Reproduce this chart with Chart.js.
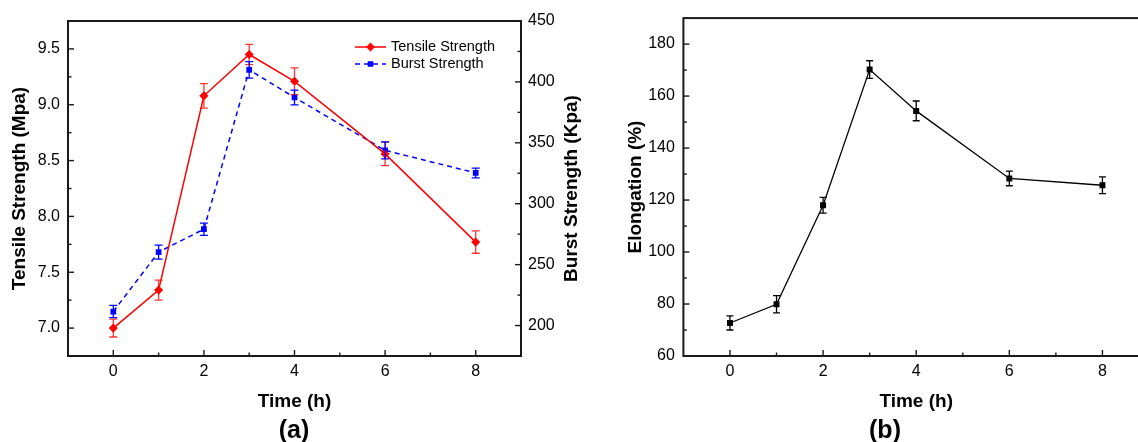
<!DOCTYPE html>
<html>
<head>
<meta charset="utf-8">
<script src="https://cdn.jsdelivr.net/npm/chart.js@4.4.0/dist/chart.umd.min.js"></script>
<style>
  html, body { margin: 0; padding: 0; background: #fff; width: 1138px; height: 442px; overflow: hidden; }
  .panel { position: absolute; top: 0; }
  .tag { position: absolute; transform: translate(-50%, -50%); font: bold 25px Arial, "Liberation Sans", sans-serif; color: #000; }
</style>
</head>
<body>
<div class="panel" style="left:0"><canvas id="chartA" width="600" height="442"></canvas></div>
<div class="panel" style="left:600px"><canvas id="chartB" width="560" height="442"></canvas></div>
<div class="tag" style="left:294px;top:429px">(a)</div>
<div class="tag" style="left:885px;top:429px">(b)</div>
<script>
// treatment time (h)
const hours = [0, 1, 2, 3, 4, 6, 8];

// (a) tensile strength (Mpa) and burst strength (Kpa)
const tensile = [7.00, 7.34, 9.08, 9.45, 9.21, 8.56, 7.77];
const tensileErr = [0.08, 0.09, 0.11, 0.09, 0.12, 0.105, 0.10];
const burst = [211.5, 260.3, 279.1, 409.9, 387.2, 343.8, 325.3];
const burstErr = [5, 5.7, 5, 6.8, 6, 7, 4];

// (b) elongation (%)
const elongation = [72.7, 79.9, 118.0, 170.2, 154.3, 128.3, 125.7];
const elongationErr = [2.7, 3.3, 3.0, 3.4, 3.8, 2.8, 3.2];

// tick values
const timeTicks = [0, 2, 4, 6, 8];
const timeMinor = [1, 3, 5, 7];
const tensileTicks = [7.0, 7.5, 8.0, 8.5, 9.0, 9.5];
const tensileMinor = [7.25, 7.75, 8.25, 8.75, 9.25];
const burstTicks = [200, 250, 300, 350, 400, 450];
const burstMinor = [225, 275, 325, 375, 425];
const elongTicks = [60, 80, 100, 120, 140, 160, 180];
const elongMinor = [70, 90, 110, 130, 150, 170];

const FONT = 'Arial, "Liberation Sans", sans-serif';
Chart.defaults.font.family = FONT;
Chart.defaults.color = '#000';

const pts = ys => hours.map((h, i) => ({ x: h, y: ys[i] }));
const fixTicks = vals => s => { s.ticks = vals.map(v => ({ value: v })); };

// error bars, inward ticks, box frame, axis titles and legend
const axisFrame = {
  id: 'axisFrame',
  afterDatasetsDraw(chart) {
    const ctx = chart.ctx;
    chart.data.datasets.forEach((ds, i) => {
      if (!ds.errors) return;
      const meta = chart.getDatasetMeta(i);
      const xs = chart.scales[meta.xAxisID];
      const ys = chart.scales[meta.yAxisID];
      const c = ds.capWidth / 2;
      ctx.save();
      ctx.strokeStyle = ds.errorColor || ds.borderColor;
      ctx.lineWidth = 1.3;
      ds.data.forEach((p, j) => {
        const x = xs.getPixelForValue(p.x);
        const top = ys.getPixelForValue(p.y + ds.errors[j]);
        const bot = ys.getPixelForValue(p.y - ds.errors[j]);
        ctx.beginPath();
        ctx.moveTo(x, top); ctx.lineTo(x, bot);
        ctx.moveTo(x - c, top); ctx.lineTo(x + c, top);
        ctx.moveTo(x - c, bot); ctx.lineTo(x + c, bot);
        ctx.stroke();
      });
      ctx.restore();
    });
  },
  afterDraw(chart, args, opts) {
    const { ctx, chartArea: a } = chart;
    ctx.save();
    ctx.strokeStyle = '#1a1a1a';
    ctx.lineWidth = 2;
    ctx.strokeRect(a.left, a.top, a.right - a.left, a.bottom - a.top);

    ctx.lineWidth = 1.4;
    Object.values(chart.scales).forEach(s => {
      const minor = (opts.minor || {})[s.id] || [];
      const marks = s.ticks.map(t => [t.value, 6]).concat(minor.map(v => [v, 3.5]));
      marks.forEach(([v, len]) => {
        const p = s.getPixelForValue(v);
        ctx.beginPath();
        if (s.position === 'bottom') { ctx.moveTo(p, a.bottom); ctx.lineTo(p, a.bottom - len); }
        else if (s.position === 'left') { ctx.moveTo(a.left, p); ctx.lineTo(a.left + len, p); }
        else { ctx.moveTo(a.right, p); ctx.lineTo(a.right - len, p); }
        ctx.stroke();
      });
    });

    const t = opts.titles || {};
    const midY = (a.top + a.bottom) / 2;
    ctx.fillStyle = '#000';
    ctx.font = 'bold 19px ' + FONT;
    ctx.textAlign = 'center';
    ctx.textBaseline = 'middle';
    if (t.bottom) ctx.fillText(t.bottom, (a.left + a.right) / 2, a.bottom + 46);
    [[t.left, a.left - 48], [t.right, a.right + 51]].forEach(([text, x]) => {
      if (!text) return;
      ctx.save();
      ctx.translate(x, midY);
      ctx.rotate(-Math.PI / 2);
      ctx.fillText(text, 0, 0);
      ctx.restore();
    });

    const lg = opts.legend;
    if (lg) {
      ctx.font = '14.5px ' + FONT;
      ctx.textAlign = 'left';
      chart.data.datasets.forEach((ds, i) => {
        const x = a.left + lg.x;
        const y = a.top + lg.y + i * 17;
        ctx.save();
        ctx.strokeStyle = ds.borderColor;
        ctx.lineWidth = ds.borderWidth;
        ctx.setLineDash(ds.borderDash || []);
        ctx.beginPath();
        ctx.moveTo(x, y); ctx.lineTo(x + 31, y);
        ctx.stroke();
        ctx.restore();
        ctx.fillStyle = ds.borderColor;
        ctx.strokeStyle = ds.borderColor;
        Chart.helpers.drawPoint(ctx, { pointStyle: ds.pointStyle, radius: ds.pointRadius, rotation: 0, borderWidth: 1 }, x + 15.5, y);
        ctx.fillStyle = '#000';
        ctx.fillText(ds.label, x + 36, y);
      });
    }
    ctx.restore();
  }
};

const tickFont = { size: 16 };
const hidden = { grid: { display: false, drawTicks: false }, border: { display: false } };

new Chart('chartA', {
  type: 'line',
  data: {
    datasets: [{
      label: 'Tensile Strength',
      data: pts(tensile),
      errors: tensileErr,
      capWidth: 8,
      errorColor: 'rgba(255,0,0,0.8)',
      borderColor: '#ff0000',
      backgroundColor: '#ff0000',
      borderWidth: 1.5,
      pointStyle: 'rectRot',
      pointRadius: 3.5,
      yAxisID: 'y'
    }, {
      label: 'Burst Strength',
      data: pts(burst),
      errors: burstErr,
      capWidth: 8,
      borderColor: '#0000ff',
      backgroundColor: '#0000ff',
      borderWidth: 1.5,
      borderDash: [5, 4],
      pointStyle: 'rect',
      pointRadius: 3,
      yAxisID: 'y2'
    }]
  },
  options: {
    responsive: false,
    animation: false,
    events: [],
    layout: { padding: { top: 21, left: 0, right: 0, bottom: 0 } },
    plugins: {
      legend: { display: false },
      tooltip: { enabled: false },
      axisFrame: {
        minor: { x: timeMinor, y: tensileMinor, y2: burstMinor },
        titles: { left: 'Tensile Strength (Mpa)', right: 'Burst Strength (Kpa)', bottom: 'Time (h)' },
        legend: { x: 287, y: 26 }
      }
    },
    scales: {
      x: {
        type: 'linear', position: 'bottom', min: -1, max: 9, ...hidden,
        afterBuildTicks: fixTicks(timeTicks),
        afterFit: s => { s.height = 86; },
        ticks: { padding: 6, font: tickFont, callback: v => v }
      },
      y: {
        type: 'linear', position: 'left', min: 6.75, max: 9.75, ...hidden,
        afterBuildTicks: fixTicks(tensileTicks),
        afterFit: s => { s.width = 68; },
        ticks: { padding: 8, font: tickFont, callback: v => v.toFixed(1) }
      },
      y2: {
        type: 'linear', position: 'right', min: 175, max: 450, ...hidden,
        afterBuildTicks: fixTicks(burstTicks),
        afterFit: s => { s.width = 79; },
        ticks: { padding: 7, font: tickFont, callback: v => v }
      }
    }
  },
  plugins: [axisFrame]
});

new Chart('chartB', {
  type: 'line',
  data: {
    datasets: [{
      label: 'Elongation',
      data: pts(elongation),
      errors: elongationErr,
      capWidth: 7,
      borderColor: '#000000',
      backgroundColor: '#000000',
      borderWidth: 1.3,
      pointStyle: 'rect',
      pointRadius: 3.3
    }]
  },
  options: {
    responsive: false,
    animation: false,
    events: [],
    layout: { padding: { top: 11.5, left: 0, right: 11, bottom: 0 } },
    plugins: {
      legend: { display: false },
      tooltip: { enabled: false },
      axisFrame: {
        minor: { x: timeMinor, y: elongMinor },
        titles: { left: 'Elongation (%)', bottom: 'Time (h)' }
      }
    },
    scales: {
      x: {
        type: 'linear', position: 'bottom', min: -1, max: 9, ...hidden,
        afterBuildTicks: fixTicks(timeTicks),
        afterFit: s => { s.height = 86; },
        ticks: { padding: 6, font: tickFont, callback: v => v }
      },
      y: {
        type: 'linear', position: 'left', min: 60, max: 190, ...hidden,
        afterBuildTicks: fixTicks(elongTicks),
        afterFit: s => { s.width = 83.4; },
        ticks: { padding: 8.5, font: tickFont, callback: v => v }
      }
    }
  },
  plugins: [axisFrame]
});
</script>
</body>
</html>
